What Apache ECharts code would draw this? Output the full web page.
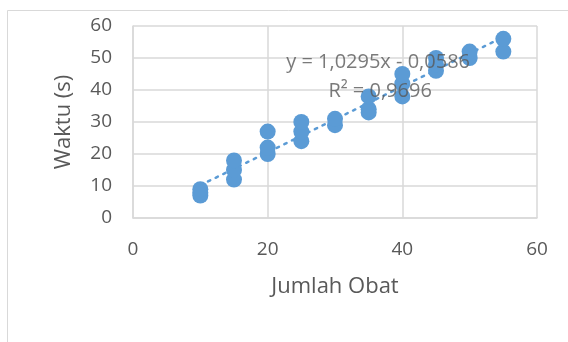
<!DOCTYPE html>
<html><head><meta charset="utf-8">
<script src="https://cdn.jsdelivr.net/npm/echarts@6/dist/echarts.min.js"></script>
<style>html,body{margin:0;padding:0;background:#fff}#c{width:568px;height:342px}</style>
</head><body><div id="c"></div>
<script>
// Data: Jumlah Obat (x) vs Waktu (s) (y)
var jumlahObat = [10,10,10, 15,15,15, 20,20,20, 25,25,25, 30,30, 35,35,35, 40,40,40, 45,45,45, 50,50, 55,55];
var waktu      = [7,8,9,   12,15,18, 20,22,27, 24,27,30, 29,31, 33,34,38, 38,42,45, 46,48,50, 50,52, 52,56];
var trendX = [10, 55];
var trendY = [10.24, 56.56];
var xTicks = [0, 20, 40, 60];
var yTicks = [0, 10, 20, 30, 40, 50, 60];
var eqText = 'y = 1,0295x - 0,0586';
var r2Text = 'R² = 0,9696';
var xTitle = 'Jumlah Obat';
var yTitle = 'Waktu (s)';

var pts = jumlahObat.map(function(x,i){return [x, waktu[i]];});
var trend = trendX.map(function(x,i){return [x, trendY[i]];});
var FONT = '"Open Sans", sans-serif';
var chart = echarts.init(document.getElementById('c'), null, {renderer:'canvas'});
chart.setOption({
  animation:false,
  backgroundColor:'#fff',
  grid:{left:133,right:31,top:26,bottom:124,containLabel:false},
  graphic:[{type:'rect',shape:{x:7.5,y:10.5,width:700,height:500},style:{fill:null,stroke:'#d9d9d9',lineWidth:1},z:-1}],
  xAxis:{type:'value',min:0,max:60,interval:20,
    name:xTitle,nameLocation:'middle',nameGap:58,
    nameTextStyle:{fontFamily:FONT,fontSize:22,color:'#595959'},
    axisLine:{show:true,lineStyle:{color:'#d9d9d9',width:1.5}},
    axisTick:{show:false},
    axisLabel:{fontFamily:FONT,fontSize:19,color:'#595959',margin:22},
    splitLine:{show:true,lineStyle:{color:'#d9d9d9',width:1.5}}},
  yAxis:{type:'value',min:0,max:60,interval:10,
    name:yTitle,nameLocation:'middle',nameGap:58,
    nameTextStyle:{fontFamily:FONT,fontSize:22,color:'#595959'},
    axisLine:{show:true,lineStyle:{color:'#d9d9d9',width:1.5}},
    axisTick:{show:false},
    axisLabel:{fontFamily:FONT,fontSize:19,color:'#595959',margin:21},
    splitLine:{show:true,lineStyle:{color:'#d9d9d9',width:1.5}}},
  series:[
    {type:'line',data:trend,symbol:'none',z:3,
     lineStyle:{color:'#5B9BD5',width:2.5,type:[2.5,6],cap:'round'}},
    {type:'scatter',data:pts,symbol:'circle',symbolSize:16,z:4,
     itemStyle:{color:'#5B9BD5',opacity:1}},
    {type:'scatter',data:[[36.4,48.8]],symbolSize:0,silent:true,z:10,
     label:{show:true,position:'inside',formatter:eqText,fontFamily:FONT,fontSize:20,color:'#595959'}},
    {type:'scatter',data:[[36.7,39.5]],symbolSize:0,silent:true,z:10,
     label:{show:true,position:'inside',formatter:r2Text,fontFamily:FONT,fontSize:20,color:'#595959'}}
  ]
});
</script></body></html>
